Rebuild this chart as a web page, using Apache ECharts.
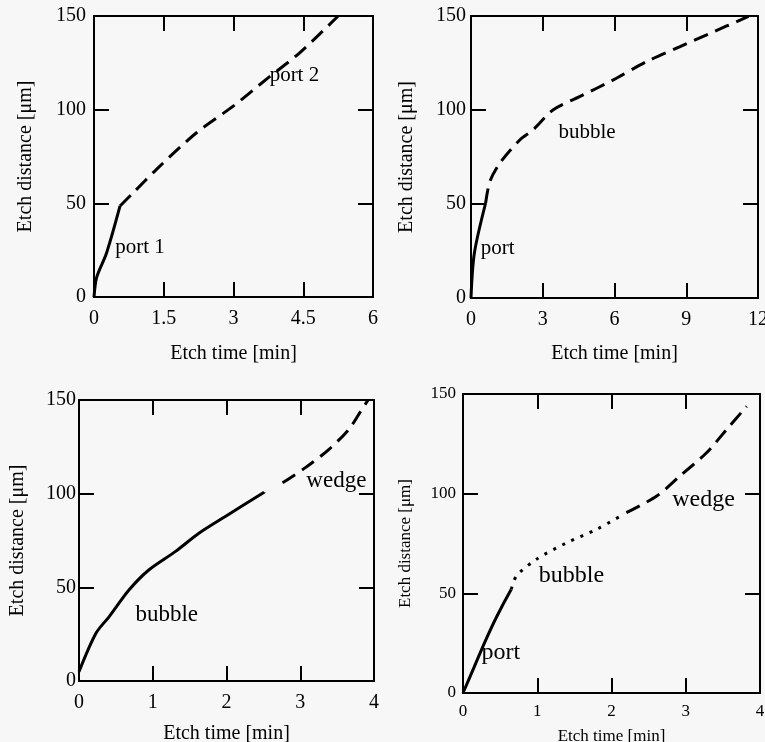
<!DOCTYPE html>
<html>
<head>
<meta charset="utf-8">
<script src="https://cdn.jsdelivr.net/npm/echarts@6/dist/echarts.min.js"></script>
<style>
  html, body { margin: 0; padding: 0; background: #f7f7f7; }
  #main { width: 765px; height: 742px; }
</style>
</head>
<body>
<div id="main"></div>
<script>
  // curve data [time (min), distance (um)]
  var p1Port1 = [[0, 0], [0.06, 10.7], [0.27, 23.5], [0.56, 48.6]];
  var p1Port2 = [[0.56, 48.6], [0.85, 55.8], [1.35, 68.3], [2.21, 87.8], [3.0, 102], [3.71, 116.3], [4.43, 130.5], [5.25, 150]];

  var p2Port = [[0, 0], [0.14, 23.8], [0.61, 50.4]];
  var p2Bubble = [[0.61, 50.4], [0.79, 62], [1.21, 71.8], [2.05, 84.2], [2.6, 89.5], [3.44, 100.1], [4.56, 107.2], [5.95, 116], [7.35, 125.8], [8.74, 133.7], [10, 140.8], [11.6, 149.8]];

  var p3Bubble = [[0, 5], [0.23, 25.5], [0.41, 34.4], [0.68, 48.7], [0.95, 59.4], [1.31, 69.2], [1.63, 79], [1.99, 88], [2.51, 100.8]];
  var p3Wedge = [[2.76, 105.8], [3.07, 113.9], [3.39, 123.7], [3.66, 134.4], [3.82, 144], [3.92, 150]];

  var p4Port = [[0, 0], [0.15, 13], [0.3, 26], [0.45, 38], [0.65, 52]];
  var p4Bubble = [[0.65, 52], [0.72, 58.7], [0.99, 67.1], [1.4, 75.4], [1.8, 82.1], [2.16, 89.6]];
  var p4Wedge = [[2.2, 90.5], [2.61, 98.8], [2.92, 108.8], [3.28, 120.5], [3.55, 132.2], [3.82, 143.8]];

  // in-plot annotations
  var p1Notes = [{ name: 'port 1', value: [0.99, 26.2] }, { name: 'port 2', value: [4.31, 118] }];
  var p2Notes = [{ name: 'port', value: [1.11, 26.6] }, { name: 'bubble', value: [4.85, 87.8] }];
  var p3Notes = [{ name: 'bubble', value: [1.19, 35.3] }, { name: 'wedge', value: [3.49, 107] }];
  var p4Notes = [{ name: 'port', value: [0.51, 20.4] }, { name: 'bubble', value: [1.46, 59] }, { name: 'wedge', value: [3.24, 97] }];

  // axis ranges
  var xMax = [6, 12, 4, 4];
  var xStep = [1.5, 3, 1, 1];
  var yMax = 150;
  var yStep = 50;

  var FONT = 'Liberation Serif';

  var panels = [
    { left: 94, top: 16, width: 279, height: 281, tick: 20, name: 20, note: 21, xMargin: 12, yMargin: 8, xGap: 47, yGap: 58 },
    { left: 471, top: 16, width: 287, height: 282, tick: 20, name: 20, note: 21, xMargin: 12, yMargin: 5, xGap: 46, yGap: 54 },
    { left: 79, top: 400, width: 295, height: 281, tick: 20, name: 20, note: 23, xMargin: 12, yMargin: 3, xGap: 43, yGap: 51 },
    { left: 463, top: 394, width: 297, height: 299, tick: 17, name: 17, note: 24, xMargin: 10, yMargin: 7, xGap: 35, yGap: 49 }
  ];

  var grids = [], xAxes = [], yAxes = [], series = [];

  function tickStyle() {
    return { show: true, inside: true, length: 15, lineStyle: { color: '#000', width: 2 } };
  }

  panels.forEach(function (p, i) {
    grids.push({
      left: p.left, top: p.top, width: p.width, height: p.height,
      containLabel: false, outerBoundsMode: 'none',
      show: true, borderColor: '#000', borderWidth: 2, backgroundColor: 'transparent'
    });

    // bottom and top x axes
    xAxes.push({
      type: 'value', gridIndex: i, position: 'bottom', min: 0, max: xMax[i], interval: xStep[i],
      name: 'Etch time [min]', nameLocation: 'middle', nameGap: p.xGap,
      nameTextStyle: { fontFamily: FONT, fontSize: p.name, color: '#000' },
      axisLine: { show: true, onZero: false, lineStyle: { color: '#000', width: 2 } },
      axisTick: tickStyle(),
      axisLabel: { fontFamily: FONT, fontSize: p.tick, color: '#000', margin: p.xMargin },
      splitLine: { show: false }
    });
    xAxes.push({
      type: 'value', gridIndex: i, position: 'top', min: 0, max: xMax[i], interval: xStep[i],
      axisLine: { show: true, onZero: false, lineStyle: { color: '#000', width: 2 } },
      axisTick: tickStyle(),
      axisLabel: { show: false },
      splitLine: { show: false }
    });

    // left and right y axes
    yAxes.push({
      type: 'value', gridIndex: i, position: 'left', min: 0, max: yMax, interval: yStep,
      name: 'Etch distance [μm]', nameLocation: 'middle', nameGap: p.yGap,
      nameTextStyle: { fontFamily: FONT, fontSize: p.name, color: '#000' },
      axisLine: { show: true, onZero: false, lineStyle: { color: '#000', width: 2 } },
      axisTick: tickStyle(),
      axisLabel: { fontFamily: FONT, fontSize: p.tick, color: '#000', margin: p.yMargin },
      splitLine: { show: false }
    });
    yAxes.push({
      type: 'value', gridIndex: i, position: 'right', min: 0, max: yMax, interval: yStep,
      axisLine: { show: true, onZero: false, lineStyle: { color: '#000', width: 2 } },
      axisTick: tickStyle(),
      axisLabel: { show: false },
      splitLine: { show: false }
    });
  });

  function curve(panel, data, type) {
    series.push({
      type: 'line',
      xAxisIndex: panel * 2,
      yAxisIndex: panel * 2,
      data: data,
      smooth: 0.3,
      showSymbol: false,
      silent: true,
      lineStyle: { color: '#000', width: 3, type: type },
      z: 3
    });
  }

  function notes(panel, data, size) {
    series.push({
      type: 'scatter',
      xAxisIndex: panel * 2,
      yAxisIndex: panel * 2,
      data: data,
      symbolSize: 0,
      silent: true,
      itemStyle: { color: '#000', opacity: 1 },
      label: {
        show: true, position: [0, 0], align: 'center', verticalAlign: 'middle',
        formatter: '{b}', fontFamily: FONT, fontSize: size, color: '#000', textBorderWidth: 0
      },
      z: 5
    });
  }

  var dash = [15, 8];
  var dot = [3, 7];

  curve(0, p1Port1, 'solid');
  curve(0, p1Port2, dash);
  curve(1, p2Port, 'solid');
  curve(1, p2Bubble, dash);
  curve(2, p3Bubble, 'solid');
  curve(2, p3Wedge, dash);
  curve(3, p4Port, 'solid');
  curve(3, p4Bubble, dot);
  curve(3, p4Wedge, dash);

  notes(0, p1Notes, panels[0].note);
  notes(1, p2Notes, panels[1].note);
  notes(2, p3Notes, panels[2].note);
  notes(3, p4Notes, panels[3].note);

  var chart = echarts.init(document.getElementById('main'));
  chart.setOption({
    backgroundColor: '#f7f7f7',
    animation: false,
    grid: grids,
    xAxis: xAxes,
    yAxis: yAxes,
    series: series
  });
</script>
</body>
</html>
